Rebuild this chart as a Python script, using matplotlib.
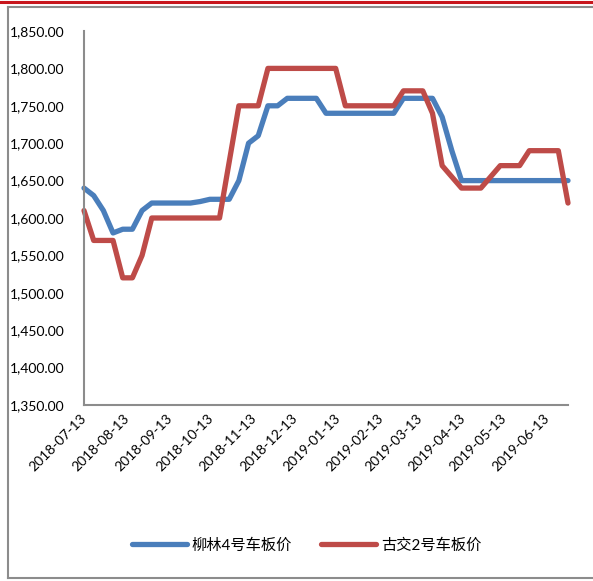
import numpy as np
import pandas as pd
import matplotlib
matplotlib.use("Agg")
import matplotlib.pyplot as plt
import matplotlib.dates as mdates
import matplotlib.transforms as mtransforms
from matplotlib.lines import Line2D
from matplotlib.ticker import FuncFormatter

plt.rcParams["font.family"] = ["Lato", "Noto Sans CJK SC", "DejaVu Sans"]

dates = pd.date_range("2018-07-13", periods=51, freq="7D")

liulin = [1640, 1630, 1610, 1580, 1585, 1585, 1610, 1620, 1620, 1620,
          1620, 1620, 1622, 1625, 1625, 1625, 1650, 1700, 1710, 1750,
          1750, 1760, 1760, 1760, 1760, 1740, 1740, 1740, 1740, 1740,
          1740, 1740, 1740, 1760, 1760, 1760, 1760, 1735, 1690, 1650,
          1650, 1650, 1650, 1650, 1650, 1650, 1650, 1650, 1650, 1650,
          1650]
gujiao = [1610, 1570, 1570, 1570, 1520, 1520, 1550, 1600, 1600, 1600,
          1600, 1600, 1600, 1600, 1600, 1675, 1750, 1750, 1750, 1800,
          1800, 1800, 1800, 1800, 1800, 1800, 1800, 1750, 1750, 1750,
          1750, 1750, 1750, 1770, 1770, 1770, 1740, 1670, 1655, 1640,
          1640, 1640, 1655, 1670, 1670, 1670, 1690, 1690, 1690, 1690,
          1620]

names = ["柳林4号车板价", "古交2号车板价"]
colors = ["#4A7EBB", "#BE4B48"]

fig = plt.figure(figsize=(5.93, 5.81), dpi=100)
ax = fig.add_axes([84 / 593, 1 - 405 / 581, 484 / 593, 374 / 581])

ax.plot(dates, liulin, color=colors[0], lw=3.8, label=names[0],
        solid_joinstyle="round", solid_capstyle="round", clip_on=False)
ax.plot(dates, gujiao, color=colors[1], lw=3.8, label=names[1],
        solid_joinstyle="round", solid_capstyle="round", clip_on=False)

ax.set_ylim(1350, 1850)
ax.set_yticks(np.arange(1350, 1851, 50))
ax.yaxis.set_major_formatter(FuncFormatter(lambda v, p: f"{v:,.2f}"))
ax.set_xlim(dates[0], dates[-1])
ticks = pd.date_range("2018-07-01", "2019-06-01", freq="MS") + pd.Timedelta(days=12)
ax.set_xticks(ticks)
ax.xaxis.set_major_formatter(mdates.DateFormatter("%Y-%m-%d"))

for s in ["top", "right"]:
    ax.spines[s].set_visible(False)
for s in ["left", "bottom"]:
    ax.spines[s].set_color("#8C8C8C")
    ax.spines[s].set_linewidth(1.5)
ax.tick_params(length=0, labelsize=10, colors="#000000")
ax.tick_params(axis="y", pad=14)
shift = mtransforms.ScaledTranslation(-0.04, -0.02, fig.dpi_scale_trans)
for lbl in ax.get_xticklabels():
    lbl.set_rotation(45)
    lbl.set_ha("right")
    lbl.set_rotation_mode("anchor")
    lbl.set_transform(lbl.get_transform() + shift)

ax.legend(loc="center", bbox_to_anchor=(0.46, -0.375), ncol=2, frameon=False,
          fontsize=11, handlelength=3.6, columnspacing=1.9, handletextpad=0.3)

# frame around the picture
fig.add_artist(Line2D([0, 1], [1 - 1.5 / 581] * 2, color="#C8161D", lw=2.2))
fig.add_artist(Line2D([8 / 593, 1], [1 - 6.5 / 581] * 2, color="#8C8C8C", lw=1.5))
fig.add_artist(Line2D([8 / 593, 8 / 593], [1 - 6.5 / 581, 1 - 578 / 581], color="#8C8C8C", lw=1.5))
fig.add_artist(Line2D([8 / 593, 1], [1 - 578 / 581] * 2, color="#8C8C8C", lw=1.5))

fig.savefig("out.png", dpi=100)
